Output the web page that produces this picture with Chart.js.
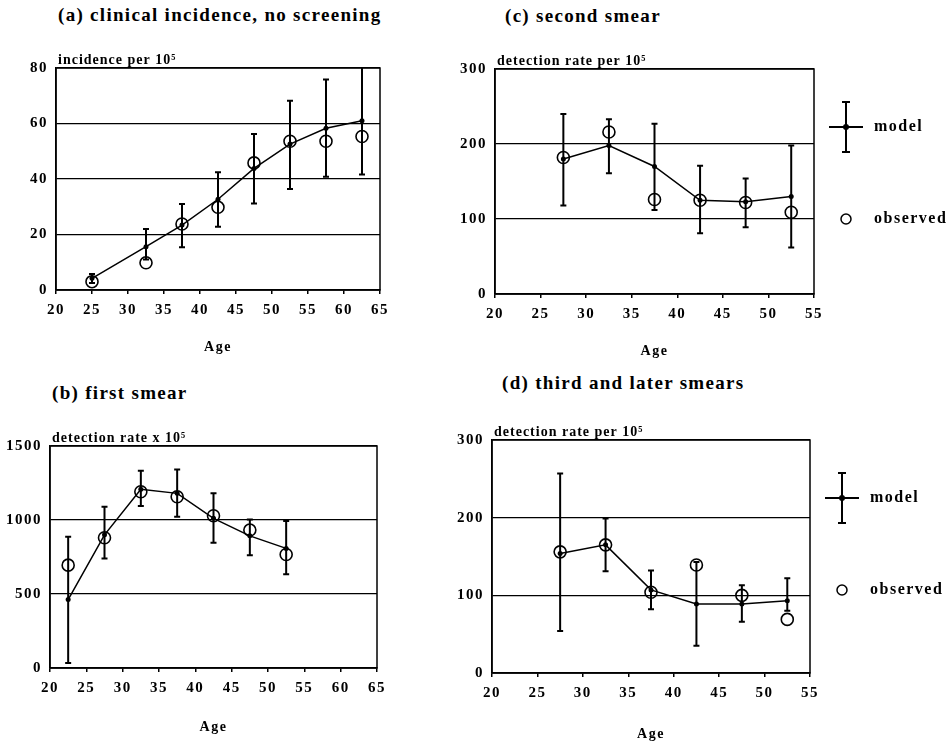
<!DOCTYPE html>
<html>
<head>
<meta charset="utf-8">
<script src="https://cdn.jsdelivr.net/npm/chart.js@4.4.1/dist/chart.umd.min.js"></script>
<style>
  body { margin: 0; background: #fff; width: 951px; height: 747px; position: relative; overflow: hidden; font-family: "Liberation Serif", serif; }
  canvas { position: absolute; }
  .ttl { position: absolute; font-weight: bold; font-size: 19px; letter-spacing: 1.3px; white-space: nowrap; line-height: 20px; }
</style>
</head>
<body>
<div class="ttl" style="left:58px;top:5px">(a) clinical incidence, no screening</div>
<div class="ttl" style="left:505px;top:6px">(c) second smear</div>
<div class="ttl" style="left:52px;top:383px">(b) first smear</div>
<div class="ttl" style="left:502px;top:373px">(d) third and later smears</div>

<canvas id="chartA" width="440" height="370" style="left:0;top:0"></canvas>
<canvas id="chartC" width="511" height="370" style="left:440px;top:0"></canvas>
<canvas id="chartB" width="440" height="377" style="left:0;top:370px"></canvas>
<canvas id="chartD" width="511" height="377" style="left:440px;top:370px"></canvas>

<script>
// (a) clinical incidence, no screening
const agesA = [25, 32.5, 37.5, 42.5, 47.5, 52.5, 57.5, 62.5];
const modelA = [4.2, 15.6, 23.4, 32.7, 43.8, 52.6, 58.3, 61.0];
const lowA = [2.5, 11, 15.4, 22.8, 31.2, 36.4, 40.8, 41.6];
const highA = [5.8, 22, 31, 42.4, 56.2, 68.2, 75.9, 85];
const obsA = [3.0, 9.8, 23.8, 29.8, 45.8, 53.6, 53.6, 55.3];

// (b) first smear
const agesB = [22.5, 27.5, 32.5, 37.5, 42.5, 47.5, 52.5];
const modelB = [462, 900, 1207, 1180, 1011, 893, 808];
const lowB = [34, 740, 1094, 1022, 846, 762, 634];
const highB = [886, 1090, 1333, 1342, 1180, 1004, 993];
const obsB = [695, 880, 1191, 1157, 1029, 932, 767];

// (c) second smear
const agesC = [27.5, 32.5, 37.5, 42.5, 47.5, 52.5];
const modelC = [180, 198, 170, 125, 123, 130];
const lowC = [118, 161, 112, 81, 89, 62];
const highC = [240, 233, 227, 171, 154, 198];
const obsC = [182, 216, 126, 125, 122, 109];

// (d) third and later smears
const agesD = [27.5, 32.5, 37.5, 42.5, 47.5, 52.5];
const modelD = [154, 165, 107, 89, 89, 93];
const lowD = [54, 131, 82, 35, 66, 80];
const highD = [257, 199, 132, 143, 113, 122];
const obsD = [156, 165, 104, 139, 100, 69];

const SERIF = '"Liberation Serif", "Times New Roman", serif';

const errorBars = {
  id: 'errorBars',
  afterDatasetsDraw(chart) {
    const { ctx, chartArea: a, scales: { x, y } } = chart;
    chart.data.datasets.forEach(ds => {
      if (!ds.errLow) return;
      ctx.save();
      ctx.beginPath();
      ctx.rect(a.left, a.top - 1, a.right - a.left, a.bottom - a.top + 2);
      ctx.clip();
      ctx.strokeStyle = '#000';
      ctx.lineWidth = 2;
      ds.data.forEach((p, i) => {
        const px = x.getPixelForValue(p.x);
        const lo = y.getPixelForValue(ds.errLow[i]);
        const hi = y.getPixelForValue(ds.errHigh[i]);
        ctx.beginPath();
        ctx.moveTo(px, lo); ctx.lineTo(px, hi);
        ctx.moveTo(px - 3, lo); ctx.lineTo(px + 3, lo);
        ctx.moveTo(px - 3, hi); ctx.lineTo(px + 3, hi);
        ctx.stroke();
      });
      ctx.restore();
    });
  }
};

const frame = {
  id: 'frame',
  beforeDraw(chart) {
    // the scanned lettering is spaced out a little
    chart.ctx.letterSpacing = '1.5px';
  },
  afterDraw(chart, args, opts) {
    const { ctx, chartArea: a } = chart;
    ctx.save();
    ctx.strokeStyle = '#000';
    ctx.lineWidth = 1.5;
    ctx.strokeRect(a.left, a.top, a.right - a.left, a.bottom - a.top);
    ctx.fillStyle = '#000';
    ctx.letterSpacing = '1px';
    ctx.font = 'bold 14px ' + SERIF;
    ctx.textBaseline = 'middle';
    ctx.fillText(opts.unit, a.left + 2, a.top - 8);
    if (opts.legend) {
      const gx = a.right + 32, gy = a.top + 58, gy2 = a.top + 150;
      ctx.lineWidth = 2;
      ctx.beginPath();
      ctx.moveTo(gx - 17, gy); ctx.lineTo(gx + 17, gy);
      ctx.moveTo(gx, gy - 25); ctx.lineTo(gx, gy + 25);
      ctx.moveTo(gx - 4, gy - 25); ctx.lineTo(gx + 4, gy - 25);
      ctx.moveTo(gx - 4, gy + 25); ctx.lineTo(gx + 4, gy + 25);
      ctx.stroke();
      ctx.beginPath(); ctx.arc(gx, gy, 3, 0, Math.PI * 2); ctx.fill();
      ctx.lineWidth = 1.5;
      ctx.beginPath(); ctx.arc(gx, gy2, 5, 0, Math.PI * 2); ctx.stroke();
      ctx.letterSpacing = '1.5px';
      ctx.font = 'bold 16px ' + SERIF;
      ctx.fillText('model', gx + 28, gy);
      ctx.fillText('observed', gx + 28, gy2);
    }
    ctx.restore();
  }
};

function pts(ages, vals) {
  return ages.map((a, i) => ({ x: a, y: vals[i] }));
}

function makePanel(id, p) {
  const W = document.getElementById(id).width;
  const H = document.getElementById(id).height;
  new Chart(document.getElementById(id), {
    type: 'scatter',
    data: {
      datasets: [
        {
          label: 'model',
          data: pts(p.ages, p.model),
          errLow: p.low,
          errHigh: p.high,
          showLine: true,
          borderColor: '#000',
          borderWidth: 1.5,
          pointRadius: 2.5,
          pointBackgroundColor: '#000',
          pointBorderWidth: 0
        },
        {
          label: 'observed',
          data: pts(p.ages, p.obs),
          showLine: false,
          pointRadius: 6,
          pointBorderWidth: 1.6,
          pointBorderColor: '#000',
          pointBackgroundColor: 'rgba(0,0,0,0)'
        }
      ]
    },
    options: {
      responsive: false,
      animation: false,
      layout: { padding: { left: 0, top: p.area.top, right: W - p.area.right, bottom: 0 } },
      plugins: {
        legend: { display: false },
        tooltip: { enabled: false },
        frame: { unit: p.unit, legend: p.legend }
      },
      scales: {
        x: {
          type: 'linear',
          min: 20, max: p.xMax,
          afterFit: s => { s.height = H - p.area.bottom; },
          ticks: { stepSize: 5, color: '#000', padding: 7, font: { family: SERIF, size: 15, weight: 'bold' } },
          grid: { drawOnChartArea: false, tickLength: 4, color: '#000', lineWidth: 1.5 },
          border: { color: '#000', width: 1.5 },
          title: {
            display: true, text: 'Age', color: '#000',
            font: { family: SERIF, size: 14, weight: 'bold' },
            padding: { top: 0, bottom: p.ageOffset - 8 }
          }
        },
        y: {
          min: 0, max: p.yMax,
          afterFit: s => { s.width = p.area.left; },
          ticks: {
            stepSize: p.yStep, color: '#000', padding: 8,
            font: { family: SERIF, size: 15, weight: 'bold' },
            callback: v => String(v)
          },
          grid: { color: '#000', lineWidth: 1.3, drawTicks: false },
          border: { color: '#000', width: 1.5 }
        }
      }
    },
    plugins: [errorBars, frame]
  });
}

makePanel('chartA', {
  ages: agesA, model: modelA, low: lowA, high: highA, obs: obsA,
  xMax: 65, yMax: 80, yStep: 20, unit: 'incidence per 10\u2075', legend: false,
  area: { left: 56, top: 68, right: 380, bottom: 290 }, ageOffset: 22
});
makePanel('chartC', {
  ages: agesC, model: modelC, low: lowC, high: highC, obs: obsC,
  xMax: 55, yMax: 300, yStep: 100, unit: 'detection rate per 10\u2075', legend: true,
  area: { left: 55, top: 69, right: 374, bottom: 294 }, ageOffset: 18
});
makePanel('chartB', {
  ages: agesB, model: modelB, low: lowB, high: highB, obs: obsB,
  xMax: 65, yMax: 1500, yStep: 500, unit: 'detection rate x 10\u2075', legend: false,
  area: { left: 50, top: 76, right: 377, bottom: 298 }, ageOffset: 19
});
makePanel('chartD', {
  ages: agesD, model: modelD, low: lowD, high: highD, obs: obsD,
  xMax: 55, yMax: 300, yStep: 100, unit: 'detection rate per 10\u2075', legend: true,
  area: { left: 52, top: 70, right: 370, bottom: 303 }, ageOffset: 12
});
</script>
</body>
</html>
